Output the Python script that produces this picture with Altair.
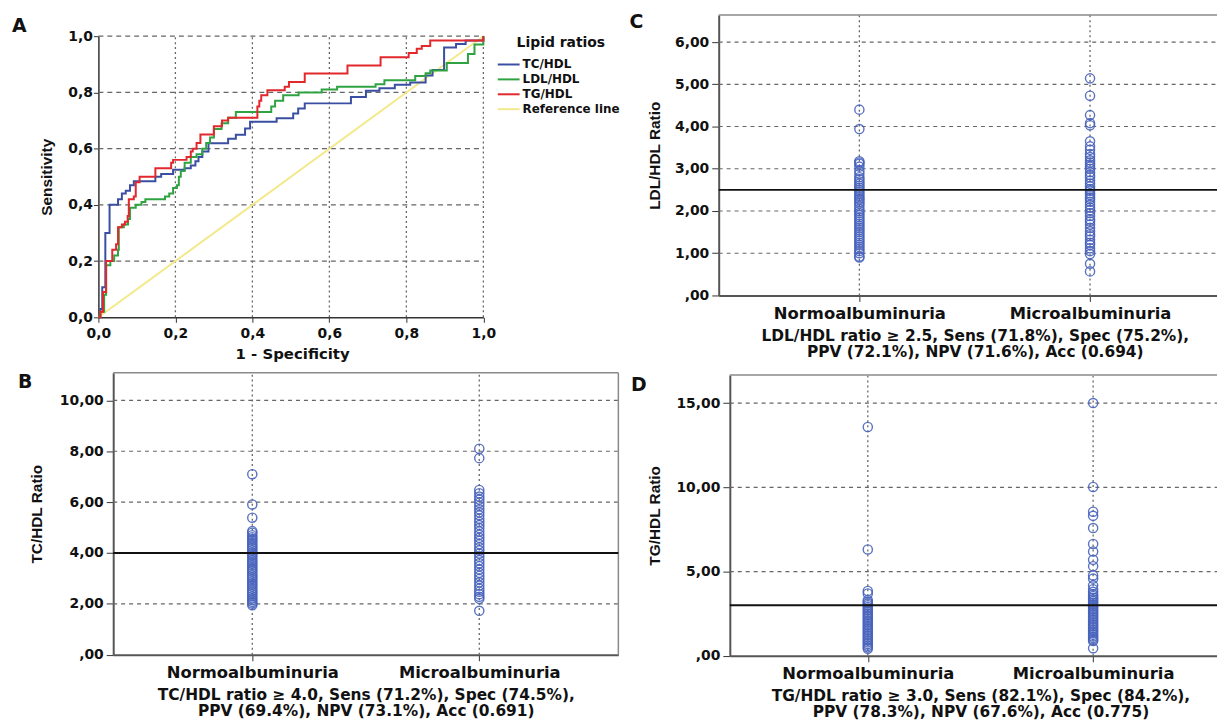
import altair as alt
import pandas as pd

W, H = 1217, 715

# ---------------- data ----------------
roc_series = ["TC/HDL", "LDL/HDL", "TG/HDL", "Reference line"]
roc_colors = ["#3a4fa2", "#2fa341", "#e2282c", "#f3e98a"]

tc_fpr = [0.0, 0.005, 0.01, 0.018, 0.029, 0.051, 0.061, 0.071, 0.082, 0.092, 0.148, 0.163, 0.194, 0.224,
          0.240, 0.252, 0.260, 0.270, 0.286, 0.337, 0.357, 0.381, 0.394, 0.463, 0.506, 0.519, 0.536,
          0.656, 0.695, 0.730, 0.770, 0.810, 0.850, 0.868, 0.898, 0.929, 0.954, 1.0]
tc_tpr = [0.0, 0.03, 0.107, 0.30, 0.40, 0.42, 0.44, 0.45, 0.47, 0.484, 0.50, 0.51, 0.525, 0.53,
          0.54, 0.555, 0.57, 0.59, 0.619, 0.635, 0.649, 0.672, 0.696, 0.708, 0.725, 0.743, 0.761,
          0.784, 0.806, 0.815, 0.827, 0.835, 0.86, 0.88, 0.96, 0.972, 0.985, 1.0]

ldl_fpr = [0.0, 0.005, 0.015, 0.020, 0.031, 0.041, 0.051, 0.053, 0.066, 0.077, 0.082, 0.097, 0.112,
           0.122, 0.173, 0.184, 0.194, 0.204, 0.209, 0.214, 0.224, 0.240, 0.255, 0.270, 0.280, 0.290,
           0.300, 0.320, 0.337, 0.357, 0.449, 0.459, 0.480, 0.520, 0.580, 0.620, 0.720, 0.743, 0.823,
           0.850, 0.862, 0.905, 0.960, 0.977, 1.0]
ldl_tpr = [0.0, 0.02, 0.08, 0.185, 0.20, 0.22, 0.24, 0.32, 0.33, 0.35, 0.39, 0.40, 0.41,
           0.42, 0.43, 0.44, 0.46, 0.47, 0.50, 0.52, 0.55, 0.57, 0.58, 0.60, 0.62, 0.64,
           0.67, 0.69, 0.71, 0.73, 0.75, 0.77, 0.79, 0.80, 0.81, 0.82, 0.829, 0.843, 0.858,
           0.868, 0.878, 0.905, 0.937, 0.97, 1.0]

tg_fpr = [0.0, 0.005, 0.012, 0.020, 0.036, 0.046, 0.051, 0.061, 0.069, 0.076, 0.079, 0.092, 0.097,
          0.107, 0.148, 0.189, 0.194, 0.229, 0.240, 0.245, 0.255, 0.265, 0.300, 0.321, 0.337, 0.413,
          0.418, 0.423, 0.439, 0.484, 0.495, 0.536, 0.647, 0.733, 0.806, 0.827, 0.840, 0.862, 1.0]
tg_tpr = [0.0, 0.02, 0.09, 0.20, 0.24, 0.26, 0.32, 0.33, 0.34, 0.36, 0.42, 0.43, 0.48,
          0.50, 0.53, 0.55, 0.56, 0.57, 0.59, 0.60, 0.62, 0.65, 0.68, 0.70, 0.71, 0.75,
          0.77, 0.79, 0.808, 0.82, 0.837, 0.867, 0.896, 0.925, 0.94, 0.955, 0.965, 0.985, 1.0]

ref_fpr = [0.0, 1.0]
ref_tpr = [0.0, 1.0]
roc_ticks = [0.0, 0.2, 0.4, 0.6, 0.8, 1.0]

groups = ["Normoalbuminuria", "Microalbuminuria"]

tc_normo = [7.10, 5.91, 5.39, 4.86, 4.80, 4.70, 4.62, 4.55, 4.48, 4.40, 4.32, 4.25, 4.18, 4.10, 4.02,
            3.95, 3.88, 3.80, 3.72, 3.65, 3.58, 3.50, 3.42, 3.35, 3.28, 3.20, 3.12, 3.05, 2.98, 2.90,
            2.82, 2.75, 2.68, 2.60, 2.52, 2.45, 2.38, 2.30, 2.22, 2.15, 2.08, 2.02, 1.95]
tc_micro = [8.10, 7.73, 6.48, 6.35, 6.22, 6.10, 5.98, 5.85, 5.72, 5.60, 5.48, 5.35, 5.22, 5.10, 4.98,
            4.85, 4.72, 4.60, 4.48, 4.35, 4.22, 4.10, 3.98, 3.85, 3.72, 3.60, 3.48, 3.35, 3.22, 3.10,
            2.98, 2.85, 2.72, 2.60, 2.48, 2.38, 2.28, 2.20, 1.73]

ldl_normo = [4.40, 3.94, 3.18, 3.15, 3.12, 3.05, 2.95, 2.88, 2.80, 2.75, 2.70, 2.65, 2.60, 2.55, 2.50,
             2.45, 2.40, 2.35, 2.30, 2.27, 2.22, 2.18, 2.12, 2.05, 2.00, 1.95, 1.90, 1.85, 1.80, 1.75,
             1.70, 1.65, 1.60, 1.55, 1.50, 1.45, 1.40, 1.35, 1.30, 1.25, 1.20, 1.15, 1.10, 1.05, 1.00,
             0.92, 0.90]
ldl_micro = [5.14, 4.73, 4.27, 4.08, 4.03, 3.65, 3.53, 3.45, 3.35, 3.28, 3.20, 3.15, 3.10, 3.05, 3.00,
             2.92, 2.85, 2.80, 2.72, 2.65, 2.58, 2.52, 2.48, 2.42, 2.38, 2.32, 2.28, 2.22, 2.15, 2.08,
             2.02, 1.95, 1.88, 1.80, 1.75, 1.68, 1.60, 1.52, 1.45, 1.40, 1.32, 1.25, 1.20, 1.12, 1.05,
             0.98, 0.75, 0.57]

tg_normo = [13.58, 6.31, 3.85, 3.70, 3.30, 3.20, 3.10, 3.00, 2.90, 2.80, 2.70, 2.60, 2.50, 2.40, 2.30,
            2.20, 2.10, 2.00, 1.90, 1.80, 1.70, 1.60, 1.50, 1.40, 1.30, 1.20, 1.10, 1.00, 0.90, 0.80,
            0.70, 0.60, 0.50, 0.42]
tg_micro = [15.00, 10.02, 8.55, 8.31, 7.58, 6.64, 6.19, 5.70, 5.32, 4.77, 4.58, 4.18, 3.95, 3.80, 3.65,
            3.55, 3.45, 3.35, 3.25, 3.15, 3.05, 2.95, 2.85, 2.75, 2.65, 2.55, 2.45, 2.35, 2.25, 2.15,
            2.05, 1.95, 1.85, 1.75, 1.65, 1.55, 1.45, 1.35, 1.25, 1.15, 1.05, 0.95, 0.88, 0.45]

tc_cut, ldl_cut, tg_cut = 4.0, 2.5, 3.0
tc_ticks = [0, 2, 4, 6, 8, 10]
ldl_ticks = [0, 1, 2, 3, 4, 5, 6]
tg_ticks = [0, 5, 10, 15]

tc_caption = ["TC/HDL ratio \u2265 4.0, Sens (71.2%), Spec (74.5%),",
              "PPV (69.4%), NPV (73.1%), Acc (0.691)"]
ldl_caption = ["LDL/HDL ratio \u2265 2.5, Sens (71.8%), Spec (75.2%),",
               "PPV (72.1%), NPV (71.6%), Acc (0.694)"]
tg_caption = ["TG/HDL ratio \u2265 3.0, Sens (82.1%), Spec (84.2%),",
              "PPV (78.3%), NPV (67.6%), Acc (0.775)"]

# ---------------- style ----------------
FONT = "DejaVu Sans"
VFONT = "Liberation Sans"
DOT = "#4863bd"
GRID = "#666666"
FRAME = "#8a8a8a"
AXIS = "#333333"

one = pd.DataFrame({"k": [0]})

# ---------------- panel A : ROC ----------------
rows = []
for name, fx, ty in zip(roc_series[:3], [tc_fpr, ldl_fpr, tg_fpr], [tc_tpr, ldl_tpr, tg_tpr]):
    for i, (a, b) in enumerate(zip(fx, ty)):
        rows.append({"series": name, "fpr": a, "tpr": b, "i": i})
roc_df = pd.DataFrame(rows)
ref_df = pd.DataFrame({"series": [roc_series[3]] * len(ref_fpr), "fpr": ref_fpr, "tpr": ref_tpr})

A_left, A_right, A_bottom, A_top = 91, 478.5, 309, 26
xsA = alt.Scale(domain=[0, 1], range=[A_left, A_right], nice=False, zero=False)
ysA = alt.Scale(domain=[0, 1], range=[A_bottom, A_top], nice=False, zero=False)
cscale = alt.Scale(domain=roc_series, range=roc_colors)
fmt1 = "replace(format(datum.value, '.1f'), '.', ',')"

axAx = alt.Axis(orient="bottom", offset=A_bottom - H, values=roc_ticks, labelExpr=fmt1,
                tickSize=5, labelPadding=4, title="1 - Specificity", titleX=286, titleY=36,
                titleBaseline="middle", titleAlign="center", titleFontSize=15,
                domainWidth=1.5)
axAy = alt.Axis(orient="left", offset=-A_left, values=roc_ticks, labelExpr=fmt1,
                tickSize=5, labelPadding=1, title="Sensitivity", titleX=39 - A_left,
                titleY=(A_bottom + A_top) / 2, titleAngle=270, titleBaseline="middle",
                titleAlign="center", titleFont=VFONT, titleFontSize=15.5, domainWidth=1.5)
legendA = alt.Legend(orient="none", legendX=497.5, legendY=26, title="Lipid ratios",
                     titleFont=FONT, titleFontSize=14, titleFontWeight="bold", titleColor="#111",
                     titleAnchor="middle", titlePadding=8,
                     labelFont=FONT, labelFontSize=12, labelFontWeight="bold", labelColor="#111",
                     symbolType="M-2,0H2", symbolSize=121, symbolStrokeWidth=2,
                     labelOffset=7.5, rowPadding=2, padding=0)

gridA = pd.DataFrame({"v": roc_ticks[1:]})
hgridA = alt.Chart(gridA).mark_rule(color=GRID, strokeDash=[5, 4], strokeWidth=1.2).encode(
    y=alt.Y("v:Q", scale=ysA, axis=axAy),
    x=alt.XDatum(0, scale=xsA, axis=axAx), x2=alt.X2Datum(1))
vgridA = alt.Chart(gridA).mark_rule(color=GRID, strokeDash=[2, 3], strokeWidth=1.3).encode(
    x=alt.X("v:Q", scale=xsA, axis=axAx),
    y=alt.YDatum(0, scale=ysA, axis=axAy), y2=alt.Y2Datum(1))

refline = alt.Chart(ref_df).mark_line(strokeWidth=2).encode(
    x=alt.X("fpr:Q", scale=xsA, axis=axAx),
    y=alt.Y("tpr:Q", scale=ysA, axis=axAy),
    color=alt.Color("series:N", scale=cscale, legend=legendA))

roc = alt.Chart(roc_df).mark_line(strokeWidth=2, interpolate="step-after").encode(
    x=alt.X("fpr:Q", scale=xsA, axis=axAx),
    y=alt.Y("tpr:Q", scale=ysA, axis=axAy),
    color=alt.Color("series:N", scale=cscale, legend=legendA),
    order=alt.Order("i:Q"))

panelA = alt.layer(hgridA, vgridA, refline, roc)


# ---------------- dot panels ----------------
def dot_panel(normo, micro, cut, ticks, ytitle, caption, left, c0, c1, right,
              bottom, top, ytop, ytitle_x):
    sp = c1 - c0
    xdom = [(left - c0) / sp, (right - c0) / sp]
    xs = alt.Scale(domain=xdom, range=[left, right], nice=False, zero=False)
    ys = alt.Scale(domain=[0, ytop], range=[bottom, top], nice=False, zero=False)
    df = pd.DataFrame({"g": [0] * len(normo) + [1] * len(micro), "v": normo + micro})
    gdf = pd.DataFrame({"v": [t for t in ticks if t > 0]})
    cdf = pd.DataFrame({"c": [0, 1]})

    cat_expr = "[" + ", ".join("'" + g + "'" for g in groups) + "][datum.value]"
    fmt2 = "datum.value == 0 ? ',00' : replace(format(datum.value, '.2f'), '.', ',')"
    axx = alt.Axis(orient="bottom", offset=bottom - H, values=[0, 1], labelExpr=cat_expr,
                   tickSize=6, labelPadding=4, labelFontSize=16.5, title=caption,
                   titleX=(left + right) / 2, titleY=33, titleBaseline="top", titleAlign="center",
                   titleLineHeight=16, titleFontSize=15.5, domainColor="#555", domainWidth=2)
    axy = alt.Axis(orient="left", offset=-left, values=ticks, labelExpr=fmt2,
                   tickSize=7, labelPadding=3, title=ytitle, titleX=ytitle_x - left,
                   titleY=(bottom + top) / 2, titleAngle=270, titleBaseline="middle",
                   titleAlign="center", titleFont=VFONT, titleFontSize=15.5,
                   domainColor="#555", domainWidth=2)

    hgrid = alt.Chart(gdf).mark_rule(color=GRID, strokeDash=[4, 4], strokeWidth=1.2).encode(
        y=alt.Y("v:Q", scale=ys, axis=axy),
        x=alt.XDatum(xdom[0], scale=xs, axis=axx), x2=alt.X2Datum(xdom[1]))
    vgrid = alt.Chart(cdf).mark_rule(color=GRID, strokeDash=[2, 3], strokeWidth=1.3).encode(
        x=alt.X("c:Q", scale=xs, axis=axx),
        y=alt.YDatum(0, scale=ys, axis=axy), y2=alt.Y2Datum(ytop))
    topf = alt.Chart(one).mark_rule(color=FRAME, strokeWidth=1.5).encode(
        y=alt.YDatum(ytop, scale=ys, axis=axy),
        x=alt.XDatum(xdom[0], scale=xs, axis=axx), x2=alt.X2Datum(xdom[1]))
    rightf = alt.Chart(one).mark_rule(color=FRAME, strokeWidth=1.5).encode(
        x=alt.XDatum(xdom[1], scale=xs, axis=axx),
        y=alt.YDatum(0, scale=ys, axis=axy), y2=alt.Y2Datum(ytop))
    cutline = alt.Chart(one).mark_rule(color="#111111", strokeWidth=2).encode(
        y=alt.YDatum(cut, scale=ys, axis=axy),
        x=alt.XDatum(xdom[0], scale=xs, axis=axx), x2=alt.X2Datum(xdom[1]))
    pts = alt.Chart(df).mark_point(shape="circle", filled=False, size=85, strokeWidth=1.4,
                                   color=DOT, opacity=0.9).encode(
        x=alt.X("g:Q", scale=xs, axis=axx),
        y=alt.Y("v:Q", scale=ys, axis=axy))
    return alt.layer(hgrid, vgrid, topf, rightf, pts, cutline)


panelC = dot_panel(ldl_normo, ldl_micro, ldl_cut, ldl_ticks, "LDL/HDL Ratio", ldl_caption,
                   left=715.4, c0=857.0, c1=1089.2, right=1231.0,
                   bottom=287.0, top=4.7, ytop=6.64, ytitle_x=650.6)
panelB = dot_panel(tc_normo, tc_micro, tc_cut, tc_ticks, "TC/HDL Ratio", tc_caption,
                   left=105.9, c0=245.9, c1=474.4, right=614.4,
                   bottom=648.7, top=364.7, ytop=11.09, ytitle_x=28.4)
panelD = dot_panel(tg_normo, tg_micro, tg_cut, tg_ticks, "TG/HDL Ratio", tg_caption,
                   left=726.6, c0=865.5, c1=1092.3, right=1231.2,
                   bottom=649.7, top=367.0, ytop=16.67, ytitle_x=650.6)


# ---------------- panel letters ----------------
def letter(t, x, y):
    return alt.Chart(one).mark_text(text=t, font=FONT, fontSize=19, fontWeight="bold",
                                    align="left", baseline="middle", color="#111").encode(
        x=alt.value(x), y=alt.value(y))


chart = alt.layer(
    panelA, panelC, panelB, panelD,
    letter("A", 4, 15.5), letter("C", 625.5, 11.5), letter("B", 10, 374.5), letter("D", 627, 377),
).resolve_scale(x="independent", y="independent").properties(
    width=W, height=H, autosize=alt.AutoSizeParams(type="none"), padding=0
).configure_view(stroke=None).configure_axis(
    labelFont=FONT, labelFontWeight="bold", labelFontSize=14, labelColor="#111",
    titleFont=FONT, titleFontWeight="bold", titleColor="#111",
    tickColor=AXIS, domainColor=AXIS, grid=False, labelFlush=False, labelOverlap=False
)

chart.save("out.html", embed_options={"renderer": "svg", "actions": False})
